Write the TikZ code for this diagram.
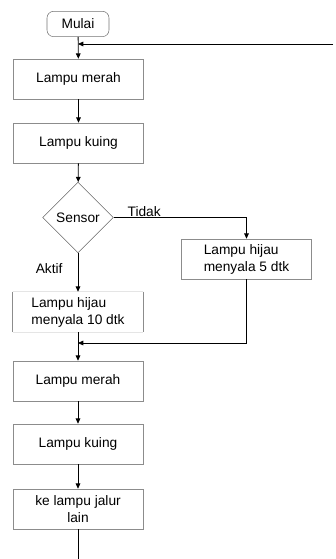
\documentclass[tikz,border=0pt]{standalone}
\usepackage{fontspec}
\setmainfont{Liberation Sans}
\usetikzlibrary{shapes.geometric,arrows.meta}
\begin{document}
\begin{tikzpicture}[
    x=0.75pt, y=-0.75pt,
    every node/.style={font=\fontsize{10.3}{12.75}\selectfont},
    proses/.style={draw=black!45, minimum width=97.5pt, minimum height=30pt, align=center, inner sep=1pt},
    mulaibox/.style={draw=black!55, rounded corners=5pt, minimum width=46.5pt, minimum height=19pt},
    keputusan/.style={draw=black!60, diamond, minimum size=53pt, inner sep=0pt},
    arrow/.style={->, >={Triangle[length=4pt,width=3.5pt]}, line width=0.6pt}
]
    \useasboundingbox (0,0) rectangle (335,559);
    \node[mulaibox] (mulai) at (78,24) {Mulai};
    \node[proses] (merah1) at (78.5,79) {Lampu merah};
    \node[proses] (kuning1) at (78.5,143) {Lampu kuing};
    \node[keputusan] (sensor) at (78,217.5) {Sensor};
    \node[proses, align=left] (hijau5) at (246.5,259) {Lampu hijau\\menyala 5 dtk};
    \node[minimum width=97.5pt, minimum height=30pt, align=left, inner sep=1pt] (hijau10) at (78,312) {Lampu hijau\\menyala 10 dtk};
    \node[proses] (merah2) at (78,381) {Lampu merah};
    \node[proses] (kuning2) at (78,444) {Lampu kuing};
    \node[proses] (lain) at (78,509) {ke lampu jalur\\lain};
    \coordinate (atas) at (78,44);
    \coordinate (balik) at (333,44);
    \coordinate (gabung) at (78,343);
    \coordinate (akhir) at (78,559);

    % sisi kotak 10 dtk
    \draw[black!45] (hijau10.north west) -- (hijau10.south west);
    \draw[black!45] (hijau10.north east) -- (hijau10.south east);
    \draw[black!10] (hijau10.north west) -- (hijau10.north east);
    \draw[black!10] (hijau10.south west) -- (hijau10.south east);

    \draw[arrow] (mulai) -- (merah1);
    \draw[arrow] (balik) -- (atas);
    \draw[arrow] (merah1) -- (kuning1);
    \draw[arrow] (kuning1) -- (sensor);
    \draw[arrow] (sensor.east) -| (hijau5.north) node[pos=0.115, above, inner sep=0.5pt] {Tidak};
    \draw[arrow] (sensor.south) -- (hijau10.north) node[pos=0.4, left=8pt] {Aktif};
    \draw[arrow] (hijau5.south) |- (gabung);
    \draw[arrow] (hijau10.south) -- (merah2.north);
    \draw[arrow] (merah2) -- (kuning2);
    \draw[arrow] (kuning2) -- (lain);
    \draw[line width=0.6pt] (lain) -- (akhir);
\end{tikzpicture}
\end{document}
